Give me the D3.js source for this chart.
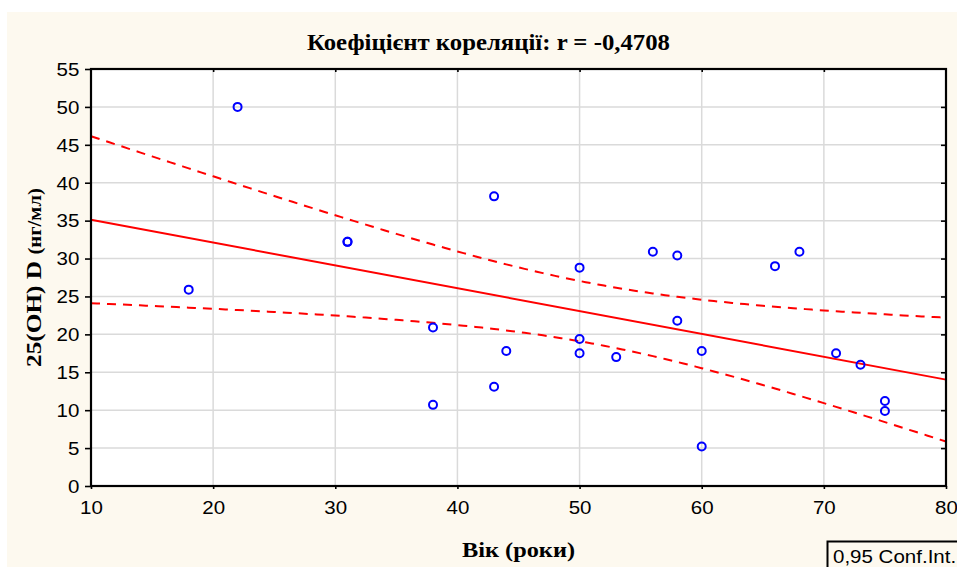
<!DOCTYPE html>
<html>
<head>
<meta charset="utf-8">
<script src="https://cdn.jsdelivr.net/npm/d3@7"></script>
<style>
  html, body { margin: 0; padding: 0; background: #ffffff; }
  svg { display: block; }
</style>
</head>
<body>
<svg id="chart" width="957" height="567"></svg>
<script>
// Age (years) and serum 25(OH)D (ng/ml) for each patient
const ages = [22, 18, 31, 31, 38, 38, 43, 43, 44, 50, 50, 50, 53, 56, 58, 58, 60, 60, 66, 68, 71, 73, 75, 75];
const vitD = [50.0, 25.9, 32.2, 32.2, 20.9, 10.7, 38.2, 13.1, 17.8, 28.8, 19.4, 17.5, 17.0, 30.9, 30.4, 21.8, 17.8, 5.2, 29.0, 30.9, 17.5, 16.0, 11.2, 9.9];

const xTicks = [10, 20, 30, 40, 50, 60, 70, 80];
const yTicks = [0, 5, 10, 15, 20, 25, 30, 35, 40, 45, 50, 55];

const titleText = "Коефіцієнт кореляції: r = -0,4708";
const xTitle = "Вік (роки)";
const yTitleMain = "25(OH) D ";
const yTitleUnit = "(нг/мл)";
const legendText = "0,95 Conf.Int.";

// Student t quantile (0.975, df = 22) for the 95% band of the mean
const T_975 = 2.0739;

const W = 957, H = 567;
const plot = { left: 91, right: 946, top: 69, bottom: 486 };
const cream = "#fdf9ef";
const grid = "#dadada";
const sansFont = "'Liberation Sans', Arial, sans-serif";
const serifFont = "'Liberation Serif', 'Times New Roman', serif";
const stretch = 1.14;

const svg = d3.select("#chart");

const x = d3.scaleLinear().domain([10, 80]).range([plot.left, plot.right]);
const y = d3.scaleLinear().domain([0, 55]).range([plot.bottom, plot.top]);

// Panel background
svg.append("rect").attr("x", 7).attr("y", 12).attr("width", W - 7).attr("height", H - 12).attr("fill", cream);
svg.append("rect")
  .attr("x", plot.left).attr("y", plot.top)
  .attr("width", plot.right - plot.left).attr("height", plot.bottom - plot.top)
  .attr("fill", "#ffffff");

// Grid lines
const gridG = svg.append("g");
gridG.selectAll("line.v").data(xTicks.slice(1, -1)).join("line")
  .attr("x1", d => x(d)).attr("x2", d => x(d))
  .attr("y1", plot.top).attr("y2", plot.bottom)
  .attr("stroke", grid).attr("stroke-width", 1.5);
gridG.selectAll("line.h").data(yTicks.slice(1, -1)).join("line")
  .attr("x1", plot.left).attr("x2", plot.right)
  .attr("y1", d => y(d)).attr("y2", d => y(d))
  .attr("stroke", grid).attr("stroke-width", 1.5);

// Least squares fit and 95% confidence band for the mean
const n = ages.length;
const mx = d3.mean(ages), my = d3.mean(vitD);
let sxx = 0, sxy = 0, syy = 0;
for (let i = 0; i < n; i++) {
  const dx = ages[i] - mx, dy = vitD[i] - my;
  sxx += dx * dx; sxy += dx * dy; syy += dy * dy;
}
const slope = sxy / sxx;
const intercept = my - slope * mx;
const se = Math.sqrt((syy - slope * sxy) / (n - 2));
const fit = a => intercept + slope * a;
const half = a => T_975 * se * Math.sqrt(1 / n + (a - mx) * (a - mx) / sxx);

const xs = d3.range(10, 80.001, 0.5);
const line = d3.line().x(d => x(d[0])).y(d => y(d[1]));

const fitG = svg.append("g").attr("fill", "none").attr("stroke", "#ff0000");
fitG.append("path")
  .attr("d", line([[10, fit(10)], [80, fit(80)]]))
  .attr("stroke-width", 2);
fitG.append("path")
  .attr("d", line(xs.map(a => [a, fit(a) + half(a)])))
  .attr("stroke-width", 2).attr("stroke-dasharray", "9,7");
fitG.append("path")
  .attr("d", line(xs.map(a => [a, fit(a) - half(a)])))
  .attr("stroke-width", 2).attr("stroke-dasharray", "9,7");

// Observations
svg.append("g").selectAll("circle").data(ages.map((a, i) => [a, vitD[i]])).join("circle")
  .attr("cx", d => x(d[0])).attr("cy", d => y(d[1])).attr("r", 4)
  .attr("fill", "none").attr("stroke", "#0000ff").attr("stroke-width", 2);

// Axes
function styleAxis(g) {
  g.select(".domain").remove();
  g.selectAll(".tick line").attr("stroke", "#000").attr("stroke-width", 1.6);
}
svg.append("g").attr("transform", `translate(${plot.left},0)`)
  .call(d3.axisLeft(y).tickValues(yTicks).tickSize(6).tickFormat(d3.format("d")))
  .call(styleAxis)
  .call(g => g.selectAll(".tick text")
    .attr("x", -11.7 / stretch).attr("dy", "0.35em")
    .attr("transform", `scale(${stretch},1)`)
    .attr("fill", "#000")
    .style("font-family", sansFont).style("font-size", "18px"));

svg.append("g").attr("transform", `translate(0,${plot.bottom})`)
  .call(d3.axisBottom(x).tickValues(xTicks).tickSize(3).tickFormat(d3.format("d")))
  .call(styleAxis)
  .call(g => g.selectAll(".tick text")
    .attr("y", 28.3).attr("dy", 0)
    .attr("transform", `scale(${stretch},1)`)
    .attr("fill", "#000")
    .style("font-family", sansFont).style("font-size", "18px"));

svg.append("g").attr("transform", `translate(${plot.right},0)`)
  .call(d3.axisRight(y).tickValues(yTicks.slice(1, -1)).tickSize(-5).tickFormat(""))
  .call(styleAxis);
svg.append("g").attr("transform", `translate(0,${plot.top})`)
  .call(d3.axisTop(x).tickValues(xTicks.slice(1, -1)).tickSize(-3).tickFormat(""))
  .call(styleAxis);

// Frame
svg.append("rect")
  .attr("x", plot.left).attr("y", plot.top)
  .attr("width", plot.right - plot.left).attr("height", plot.bottom - plot.top)
  .attr("fill", "none").attr("stroke", "#000").attr("stroke-width", 2.2);

// Titles
svg.append("text")
  .attr("x", 307).attr("y", 50)
  .attr("textLength", 363).attr("lengthAdjust", "spacingAndGlyphs")
  .style("font-family", serifFont).style("font-weight", "bold").style("font-size", "23.5px")
  .attr("fill", "#000").text(titleText);

svg.append("text")
  .attr("x", 462).attr("y", 557)
  .attr("textLength", 113).attr("lengthAdjust", "spacingAndGlyphs")
  .style("font-family", serifFont).style("font-weight", "bold").style("font-size", "22px")
  .attr("fill", "#000").text(xTitle);

const yT = svg.append("text")
  .attr("transform", "translate(41,277.5) rotate(-90)")
  .attr("x", -89.5).attr("y", 0)
  .attr("textLength", 179).attr("lengthAdjust", "spacingAndGlyphs")
  .style("font-family", serifFont).style("font-weight", "bold")
  .attr("fill", "#000");
yT.append("tspan").style("font-size", "22px").text(yTitleMain);
yT.append("tspan").style("font-size", "18px").text(yTitleUnit);

// Legend box (partly beyond the right edge)
svg.append("rect")
  .attr("x", 827.5).attr("y", 541.5).attr("width", 200).attr("height", 40)
  .attr("fill", cream).attr("stroke", "#000").attr("stroke-width", 2);
svg.append("text")
  .attr("x", 833 / stretch).attr("y", 563.5)
  .attr("transform", `scale(${stretch},1)`)
  .style("font-family", sansFont).style("font-size", "18px")
  .attr("fill", "#000").text(legendText);
</script>
</body>
</html>
